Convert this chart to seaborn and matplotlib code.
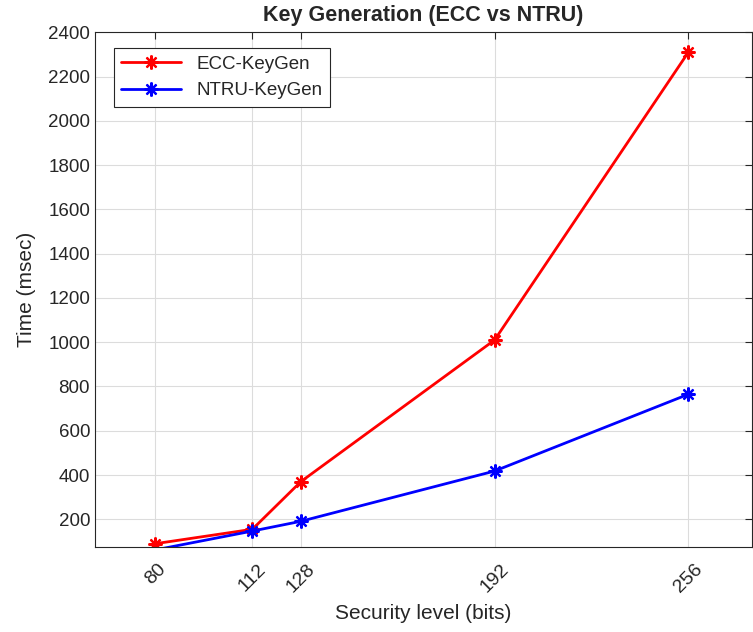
import matplotlib
matplotlib.use("Agg")
import matplotlib.pyplot as plt
import seaborn as sns
import pandas as pd

# data
levels = [80, 112, 128, 192, 256]
ecc_time = [90, 155, 370, 1010, 2310]
ntru_time = [62, 147, 191, 418, 765]
series_names = ["ECC-KeyGen", "NTRU-KeyGen"]
colors = ["#ff0000", "#0000ff"]

sns.set_style("white")
plt.rcParams['font.family'] = ['Liberation Sans', 'DejaVu Sans']

fig = plt.figure(figsize=(7.53, 6.32), dpi=100)
ax = fig.add_axes([0.126, 0.1345, 0.8727, 0.8145])

ylo = 75
for name, vals, c in zip(series_names, [ecc_time, ntru_time], colors):
    d = pd.DataFrame({"level": levels, "time": vals})
    # like matlab: no marker for points outside the y-limits
    shown = [i for i, v in enumerate(vals) if v >= ylo]
    sns.lineplot(data=d, x="level", y="time", color=c, label=name,
                 marker=(8, 2, 0), markersize=10, markeredgewidth=1.6,
                 markeredgecolor=c, linewidth=2, markevery=shown, ax=ax)

ax.set_xlim(60, 277)
ax.set_ylim(ylo, 2400)
ax.set_xticks(levels)
ax.set_yticks(range(200, 2401, 200))
ax.tick_params(axis='x', labelrotation=45, labelsize=14, colors='#262626',
               direction='in', top=True, length=5, pad=10)
ax.tick_params(axis='y', labelsize=13.5, colors='#262626',
               direction='in', right=True, length=5)
ax.grid(True, color='#dcdcdc', linewidth=0.8)
for s in ax.spines.values():
    s.set_color('#262626')
    s.set_linewidth(0.8)

ax.set_xlabel("Security level (bits)", fontsize=15, color='#262626', labelpad=6)
ax.set_ylabel("Time (msec)", fontsize=15, color='#262626', labelpad=9)
ax.set_title("Key Generation (ECC vs NTRU)", fontsize=15.5, fontweight='bold', pad=8)

leg = ax.legend(loc='upper left', bbox_to_anchor=(0.02, 0.98), fontsize=13.5,
                frameon=True, fancybox=False, edgecolor='#262626',
                handlelength=3.2, borderaxespad=0.3, framealpha=1)
leg.get_frame().set_linewidth(0.8)
for l in leg.get_lines():
    l.set_markevery([1])

fig.savefig("out.png", dpi=100)
